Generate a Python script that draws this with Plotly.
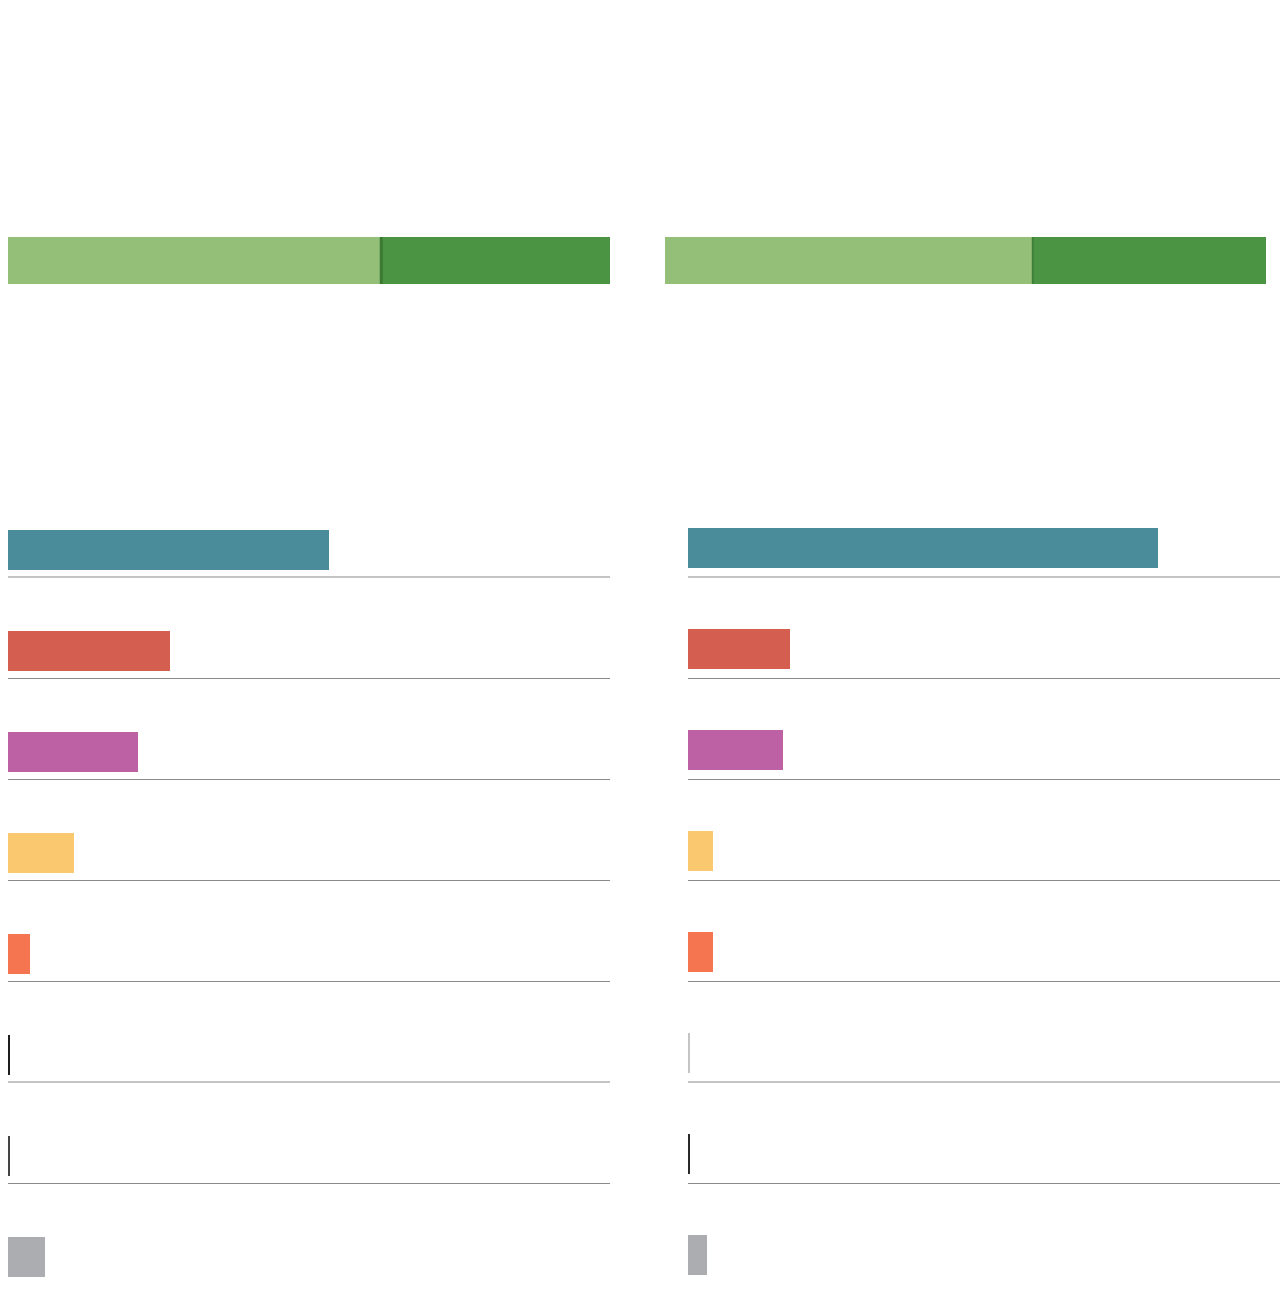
import plotly.graph_objects as go

# top split bar (share of the total, %)
top_left = [61.8, 38.2]
top_right = [61.2, 38.8]
top_colors = ["#93bf78", "#4a9444"]

# eight rows below, value as % of panel width
rows = list(range(8))
left_vals = [53.3, 26.9, 21.6, 11.0, 3.7, 0.4, 0.2, 6.1]
right_vals = [79.4, 17.2, 16.0, 4.2, 4.2, 0.2, 0.25, 3.2]
left_colors = ["#4a8c99", "#d45f50", "#be60a4", "#f9c86f", "#f47550", "#1e1e1e", "#444444", "#acadb0"]
right_colors = ["#4a8c99", "#d45f50", "#be60a4", "#f9c86f", "#f47550", "#c4c4c4", "#2a2a2a", "#acadb0"]

H = 1314.0
W = 1280.0

def px(p):
    return p / W

def py(p):
    return 1 - p / H

fig = go.Figure()

# top bars
for i, v in enumerate(top_left):
    fig.add_trace(go.Bar(x=[v], y=[0], orientation="h", marker_color=top_colors[i],
                         marker_line_width=0, width=1, xaxis="x", yaxis="y"))
for i, v in enumerate(top_right):
    fig.add_trace(go.Bar(x=[v], y=[0], orientation="h", marker_color=top_colors[i],
                         marker_line_width=0, width=1, xaxis="x2", yaxis="y2"))

# row bars
fig.add_trace(go.Bar(x=left_vals, y=rows, orientation="h", marker_color=left_colors,
                     marker_line_width=0, width=40 / 101, xaxis="x3", yaxis="y3"))
fig.add_trace(go.Bar(x=right_vals, y=rows, orientation="h", marker_color=right_colors,
                     marker_line_width=0, width=40 / 101, xaxis="x4", yaxis="y4"))

shapes = []
# dark seam between the two greens
shapes.append(dict(type="line", xref="x", yref="y", x0=top_left[0] + 0.2, x1=top_left[0] + 0.2,
                   y0=-0.5, y1=0.5, line=dict(color="#3a7a33", width=3)))
shapes.append(dict(type="line", xref="x2", yref="y2", x0=top_right[0], x1=top_right[0],
                   y0=-0.5, y1=0.5, line=dict(color="#3f8038", width=2)))

# separators under each row
sep_colors = ["#c4c4c4", "#8a8a8a", "#8a8a8a", "#8a8a8a", "#8a8a8a", "#c4c4c4", "#8a8a8a"]
sep_widths = [2, 1, 1, 1, 1, 2, 1]
for i in range(7):
    dy = 28 / 101 if sep_widths[i] == 2 else 28.5 / 101
    shapes.append(dict(type="line", xref="paper", yref="y3", x0=px(8), x1=px(610),
                       y0=i + dy, y1=i + dy,
                       line=dict(color=sep_colors[i], width=sep_widths[i])))
    shapes.append(dict(type="line", xref="paper", yref="y4", x0=px(688), x1=1.0,
                       y0=i + dy + 2 / 101, y1=i + dy + 2 / 101,
                       line=dict(color=sep_colors[i], width=sep_widths[i])))

ax = dict(visible=False, showgrid=False, zeroline=False, fixedrange=True)

fig.update_layout(
    width=1280, height=1314,
    margin=dict(l=0, r=0, t=0, b=0),
    paper_bgcolor="white", plot_bgcolor="white",
    showlegend=False, barmode="stack", bargap=0,
    hovermode=False,
    shapes=shapes,
    xaxis=dict(ax, domain=[px(8), px(610)], range=[0, 100]),
    yaxis=dict(ax, domain=[py(284), py(237)], range=[-0.5, 0.5]),
    xaxis2=dict(ax, domain=[px(665), px(1266)], range=[0, 100]),
    yaxis2=dict(ax, domain=[py(284), py(237)], range=[-0.5, 0.5]),
    xaxis3=dict(ax, domain=[px(8), px(610)], range=[0, 100]),
    yaxis3=dict(ax, domain=[py(1306.5), py(498.5)], range=[7.5, -0.5]),
    xaxis4=dict(ax, domain=[px(688), px(1280)], range=[0, 100]),
    yaxis4=dict(ax, domain=[py(1304.5), py(496.5)], range=[7.5, -0.5]),
)

fig.write_html("out.html", config={"displayModeBar": False},
               post_script="document.body.style.margin='0';")
